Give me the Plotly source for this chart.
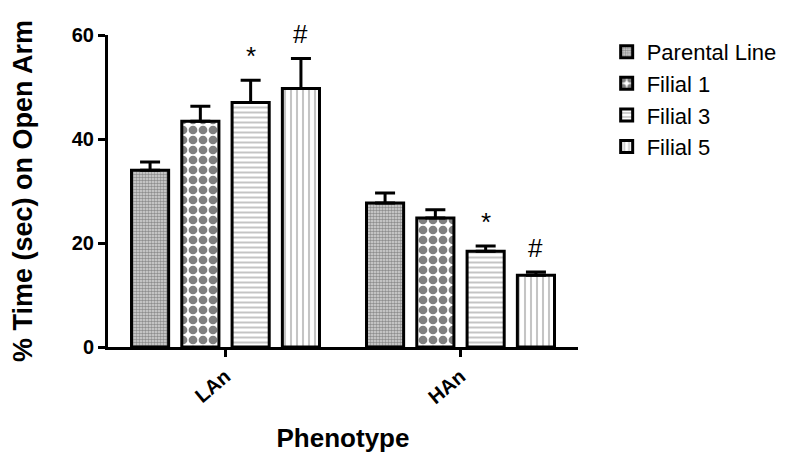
import plotly.graph_objects as go

phenotypes = ["LAn", "HAn"]
groups = ["Parental Line", "Filial 1", "Filial 3", "Filial 5"]
means = {
    "Parental Line": [34.0, 27.7],
    "Filial 1": [43.4, 24.8],
    "Filial 3": [47.0, 18.4],
    "Filial 5": [49.7, 13.8],
}
sem = {
    "Parental Line": [1.6, 1.9],
    "Filial 1": [2.9, 1.6],
    "Filial 3": [4.3, 1.0],
    "Filial 5": [5.8, 0.6],
}
signif = {
    "Parental Line": ["", ""],
    "Filial 1": ["", ""],
    "Filial 3": ["*", "*"],
    "Filial 5": ["#", "#"],
}

patterns = {
    "Parental Line": dict(shape=".", size=3, solidity=0.55, fgcolor="#444444", bgcolor="#d8d8d8"),
    "Filial 1": dict(shape=".", size=10, solidity=0.6, fgcolor="black", bgcolor="white"),
    "Filial 3": dict(shape="-", size=5, solidity=0.4, fgcolor="#8a8a8a", bgcolor="white"),
    "Filial 5": dict(shape="|", size=6, solidity=0.35, fgcolor="#8a8a8a", bgcolor="white"),
}

slot = 0.214
barw = 0.158
font = "Liberation Sans, Arial, sans-serif"

fig = go.Figure()
annotations = []
for j, g in enumerate(groups):
    off = (j - 1.5) * slot
    xs = [i + off for i in range(len(phenotypes))]
    fig.add_trace(go.Bar(
        x=xs, y=means[g], name=g, width=barw,
        marker=dict(color="white", line=dict(color="black", width=3), pattern=patterns[g]),
        error_y=dict(type="data", array=sem[g], arrayminus=[0] * len(phenotypes),
                     symmetric=False, color="black", thickness=3, width=10),
    ))
    for x, m, s, t in zip(xs, means[g], sem[g], signif[g]):
        if t:
            annotations.append(dict(x=x, y=m + s, text=t, showarrow=False,
                                    yanchor="middle", yshift=24,
                                    font=dict(size=26, color="black", family=font)))

fig.update_layout(
    width=800, height=463,
    margin=dict(l=100, r=230, t=27, b=124),
    plot_bgcolor="white", paper_bgcolor="white",
    font=dict(family=font, color="black"),
    barmode="overlay",
    annotations=annotations,
    legend=dict(x=1.061, y=1.013, xanchor="left", yanchor="top",
                font=dict(size=22, color="black", family=font)),
)
fig.update_xaxes(
    range=[-0.5, 1.5], tickvals=list(range(len(phenotypes))), ticktext=phenotypes,
    tickangle=-40, ticks="outside", ticklen=7, tickwidth=2.5, tickcolor="black",
    showline=True, linewidth=3, linecolor="black", showgrid=False, zeroline=False,
    tickfont=dict(size=20, weight="bold"), automargin=False,
    title=dict(text="Phenotype", font=dict(size=26, weight="bold"), standoff=22),
)
fig.update_yaxes(
    range=[0, 60], tickvals=[0, 20, 40, 60],
    ticks="outside", ticklen=7, tickwidth=2.5, tickcolor="black",
    showline=True, linewidth=3, linecolor="black", showgrid=False, zeroline=False,
    tickfont=dict(size=20, weight="bold"), automargin=False,
    title=dict(text="% Time (sec) on Open Arm", font=dict(size=27, weight="bold"), standoff=40),
)
fig.write_html("out.html")
